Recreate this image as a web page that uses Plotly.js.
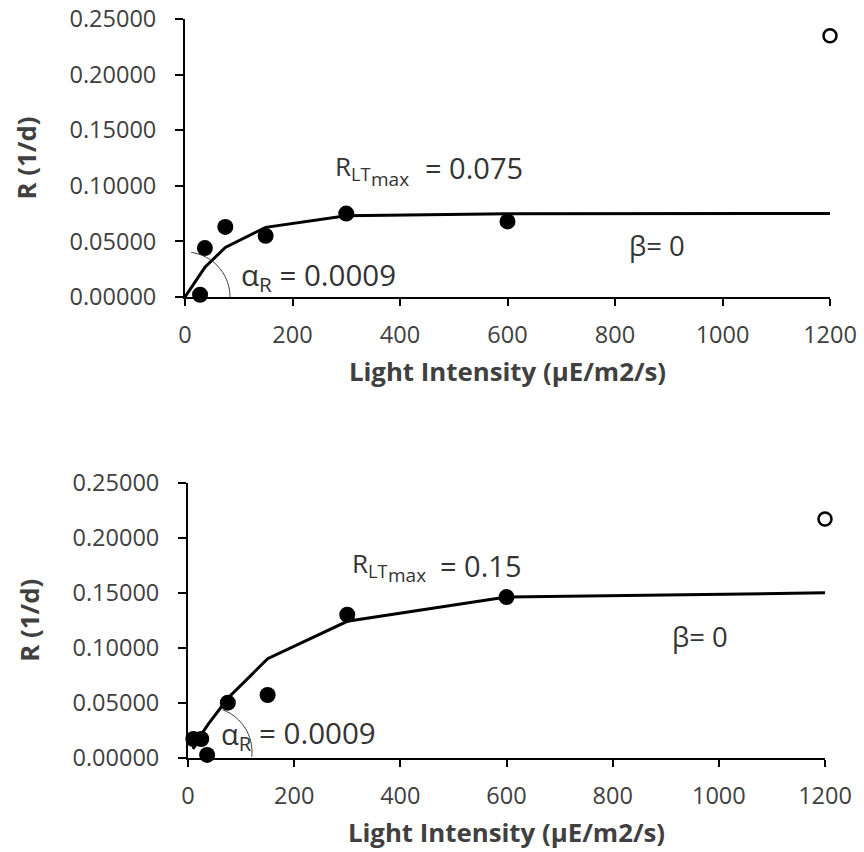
<!DOCTYPE html>
<html>
<head>
<meta charset="utf-8">
<script src="https://cdn.plot.ly/plotly-3.0.1.min.js"></script>
<style>html,body{margin:0;padding:0;background:#fff;}#chart{width:864px;height:852px;}</style>
</head>
<body>
<div id="chart"></div>
<script>
// ---- data ----
const xTicks = [0, 200, 400, 600, 800, 1000, 1200];

// top panel
const topObsX = [28, 37, 75, 150, 300, 600];
const topObsY = [0.002, 0.044, 0.063, 0.055, 0.075, 0.068];
const topOutX = [1200];
const topOutY = [0.235];
const topFitX = [0, 37.5, 75, 150, 300, 600, 1200];
const topFitY = [0, 0.027, 0.0445, 0.0626, 0.073, 0.0749, 0.075];

// bottom panel
const botObsX = [10, 25, 36, 75, 150, 300, 600];
const botObsY = [0.017, 0.017, 0.0025, 0.050, 0.057, 0.130, 0.146];
const botOutX = [1200];
const botOutY = [0.217];
const botFitX = [9.4, 25, 37.5, 75, 150, 300, 600, 1200];
const botFitY = [0.008, 0.021, 0.030, 0.054, 0.090, 0.124, 0.146, 0.1499];

// ---- styling ----
const W = 864, H = 852;
const FONT = 'Open Sans, Noto Sans, sans-serif';
const tickFont = {family: FONT, size: 23.5, color: '#404040'};
const titleFont = {family: FONT, size: 25.8, color: '#404040', weight: 'bold'};
const annColor = '#333333';

function scat(x, y, xa, ya) {
  return {x: x, y: y, xaxis: xa, yaxis: ya, type: 'scatter', mode: 'markers', cliponaxis: false,
          marker: {symbol: 'circle', size: 16, color: '#000'}, showlegend: false, hoverinfo: 'x+y'};
}
function outl(x, y, xa, ya) {
  return {x: x, y: y, xaxis: xa, yaxis: ya, type: 'scatter', mode: 'markers', cliponaxis: false,
          marker: {symbol: 'circle-open', size: 13, color: '#000', line: {width: 2.5, color: '#000'}}, showlegend: false};
}
function fit(x, y, xa, ya) {
  return {x: x, y: y, xaxis: xa, yaxis: ya, type: 'scatter', mode: 'lines', cliponaxis: false,
          line: {color: '#000', width: 3}, showlegend: false};
}

const data = [
  fit(topFitX, topFitY, 'x', 'y'),
  scat(topObsX, topObsY, 'x', 'y'),
  outl(topOutX, topOutY, 'x', 'y'),
  fit(botFitX, botFitY, 'x2', 'y2'),
  scat(botObsX, botObsY, 'x2', 'y2'),
  outl(botOutX, botOutY, 'x2', 'y2')
];

function xAxis(dom, anchor) {
  return {domain: dom, anchor: anchor, range: [0, 1200], tickvals: xTicks, ticktext: xTicks.map(String),
    showline: true, linecolor: '#000', linewidth: 2, ticks: 'outside', ticklen: 7, tickwidth: 2, tickcolor: '#000',
    showgrid: false, zeroline: false, tickfont: tickFont, ticklabelstandoff: 9, automargin: false,
    title: {text: 'Light Intensity (µE/m2/s)', font: titleFont, standoff: 14}};
}
function yAxis(dom, anchor) {
  return {domain: dom, anchor: anchor, range: [0, 0.25], dtick: 0.05, tick0: 0, tickformat: '.5f',
    showline: true, linecolor: '#000', linewidth: 2, ticks: 'outside', ticklen: 8, tickwidth: 2, tickcolor: '#000',
    showgrid: false, zeroline: false, tickfont: tickFont, ticklabelstandoff: 14, automargin: false,
    title: {text: 'R (1/d)', font: titleFont, standoff: 25}};
}

// arc decoration (pixel path around an anchor point)
function arcPath(cx, cy, r, a0, a1) {
  let p = '';
  const n = 40;
  for (let i = 0; i <= n; i++) {
    const a = (a0 + (a1 - a0) * i / n) * Math.PI / 180;
    const px = cx + r * Math.cos(a), py = cy + r * Math.sin(a);
    p += (i === 0 ? 'M' : 'L') + px.toFixed(2) + ',' + py.toFixed(2) + ' ';
  }
  return p;
}

function ann(text, px, py, size) {
  return {xref: 'paper', yref: 'paper', x: px / W, y: 1 - py / H, xanchor: 'left', yanchor: 'middle',
          showarrow: false, text: text, font: {family: FONT, size: size, color: annColor}};
}

const layout = {
  width: W, height: H,
  margin: {l: 0, r: 0, t: 0, b: 0},
  paper_bgcolor: '#fff', plot_bgcolor: '#fff',
  showlegend: false,
  xaxis: xAxis([185 / W, 830 / W], 'y'),
  yaxis: yAxis([1 - 297 / H, 1 - 19 / H], 'x'),
  xaxis2: xAxis([188 / W, 825 / W], 'y2'),
  yaxis2: yAxis([1 - 757.7 / H, 1 - 482.7 / H], 'x2'),
  shapes: [
    {type: 'path', xref: 'x', yref: 'y', xsizemode: 'pixel', ysizemode: 'pixel', xanchor: 0, yanchor: 0,
     path: arcPath(0, 0, 45, 0, 82), line: {color: '#333', width: 1}},
    {type: 'path', xref: 'x2', yref: 'y2', xsizemode: 'pixel', ysizemode: 'pixel', xanchor: 0, yanchor: 0,
     path: arcPath(19, 5.7, 45, -6, 70), line: {color: '#333', width: 1}}
  ],
  annotations: [
    ann('R<sub>LT</sub>', 333, 167, 26),
    ann('max', 369, 179, 19),
    ann('= 0.075', 423, 167, 29),
    ann('α<sub>R</sub> = 0.0009', 239, 276, 29.5),
    ann('β= 0', 627, 245, 27.5),
    ann('R<sub>LT</sub>', 350, 564, 26),
    ann('max', 386, 575, 19),
    ann('= 0.15', 438, 565, 29),
    ann('α<sub>R</sub>', 219, 735, 29),
    ann('= 0.0009', 257, 732, 29.5),
    ann('β= 0', 670, 636, 27.5)
  ]
};

Plotly.newPlot('chart', data, layout, {staticPlot: true});
</script>
</body>
</html>
